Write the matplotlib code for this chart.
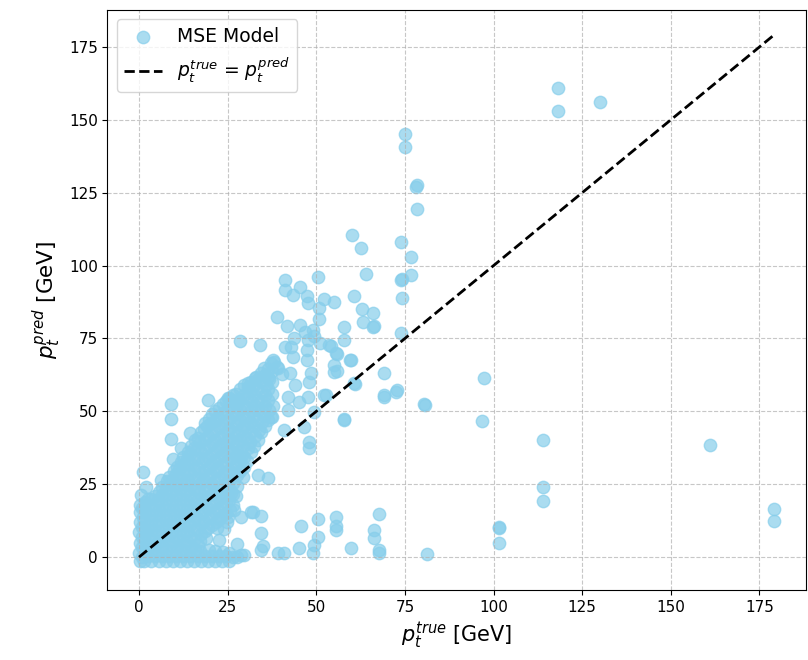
import numpy as np
import matplotlib
matplotlib.use("Agg")
import matplotlib.pyplot as plt

# dense core near the origin
core_pts = [
    (0.2, -1.3), (0.0, 1.5), (0.3, 5.0), (0.1, 8.5), (0.4, 12.0), (0.2, 15.5), (0.3, 18.0),
    (1.5, -1.5), (1.7, 2.0), (1.4, 5.5), (1.6, 9.0), (1.5, 12.5), (1.8, 16.0), (1.6, 19.0),
    (3.5, -1.2), (3.4, 2.3), (3.7, 5.8), (3.5, 9.3), (3.3, 12.8), (3.6, 16.3), (3.5, 19.8),
    (5.5, -1.4), (5.3, 2.0), (5.6, 5.5), (5.4, 9.0), (5.7, 12.5), (5.5, 16.0), (5.3, 19.5), (5.6, 22.5),
    (7.5, -1.2), (7.7, 2.3), (7.4, 5.8), (7.6, 9.3), (7.5, 12.8), (7.3, 16.3), (7.6, 19.8), (7.5, 23.3),
    (7.8, 26.0),
    (9.5, -1.4), (9.3, 2.0), (9.6, 5.5), (9.4, 9.0), (9.7, 12.5), (9.5, 16.0), (9.3, 19.5), (9.6, 23.0),
    (9.4, 26.5), (9.8, 29.5),
    (11.5, -1.2), (11.7, 2.3), (11.4, 5.8), (11.6, 9.3), (11.5, 12.8), (11.3, 16.3), (11.6, 19.8),
    (11.5, 23.3), (11.7, 26.8), (11.4, 30.3), (11.8, 32.5),
    (13.5, -1.4), (13.3, 2.0), (13.6, 5.5), (13.4, 9.0), (13.7, 12.5), (13.5, 16.0), (13.3, 19.5),
    (13.6, 23.0), (13.4, 26.5), (13.7, 30.0), (13.5, 33.5), (13.8, 36.0),
    (15.5, -1.2), (15.7, 2.3), (15.4, 5.8), (15.6, 9.3), (15.5, 12.8), (15.3, 16.3), (15.6, 19.8),
    (15.5, 23.3), (15.7, 26.8), (15.4, 30.3), (15.6, 33.8), (15.5, 37.3), (15.8, 40.0),
    (17.5, -1.4), (17.3, 2.0), (17.6, 8.0), (17.4, 11.5), (17.7, 15.0), (17.5, 18.5), (17.3, 22.0),
    (17.6, 25.5), (17.4, 29.0), (17.7, 32.5), (17.5, 36.0), (17.3, 39.5), (17.6, 43.0),
    (19.5, -1.2), (19.7, 2.3), (19.4, 10.0), (19.6, 13.5), (19.5, 17.0), (19.3, 20.5), (19.6, 24.0),
    (19.5, 27.5), (19.7, 31.0), (19.4, 34.5), (19.6, 38.0), (19.5, 41.5), (19.3, 45.0), (19.7, 47.5),
    (21.5, -1.4), (21.3, 2.0), (21.6, 12.0), (21.4, 15.5), (21.7, 19.0), (21.5, 22.5), (21.3, 26.0),
    (21.6, 29.5), (21.4, 33.0), (21.7, 36.5), (21.5, 40.0), (21.3, 43.5), (21.6, 47.0), (21.4, 50.0),
    (23.5, -1.2), (23.7, 1.8), (23.4, 14.0), (23.6, 17.5), (23.5, 21.0), (23.3, 24.5), (23.6, 28.0),
    (23.5, 31.5), (23.7, 35.0), (23.4, 38.5), (23.6, 42.0), (23.5, 45.5), (23.3, 49.0), (23.7, 52.5),
    (25.5, -1.3), (25.3, 1.5), (25.6, 16.0), (25.4, 19.5), (25.7, 23.0), (25.5, 26.5), (25.3, 30.0),
    (25.6, 33.5), (25.4, 37.0), (25.7, 40.5), (25.5, 44.0), (25.3, 47.5), (25.6, 51.0), (25.4, 54.5),
    (27.5, 0.0), (27.4, 21.0), (27.7, 24.5), (27.5, 28.0), (27.3, 31.5), (27.6, 35.0), (27.4, 38.5),
    (27.7, 42.0), (27.5, 45.5), (27.3, 49.0), (27.6, 52.5), (27.4, 56.0),
    (29.5, 0.7), (29.3, 27.5), (29.5, 31.0), (29.7, 34.5), (29.4, 38.0), (29.6, 41.5), (29.5, 45.0),
    (29.3, 48.5), (29.6, 52.0), (29.5, 55.5), (29.7, 59.0),
    (31.5, 36.0), (31.3, 39.5), (31.6, 43.0), (31.4, 46.5), (31.7, 50.0), (31.5, 53.5), (31.3, 57.0),
    (31.6, 60.0),
    (33.5, 40.0), (33.7, 43.5), (33.4, 47.0), (33.6, 50.5), (33.5, 54.0), (33.3, 57.5), (33.6, 61.0),
    (35.5, 45.0), (35.3, 48.5), (35.6, 52.0), (35.4, 55.5), (35.7, 59.0), (35.5, 62.5), (35.3, 65.0),
    (37.5, 48.0), (37.7, 52.0), (37.4, 56.0), (37.6, 60.0), (37.5, 64.0),
]

# second pass over the core, between the columns above
core_fill_pts = [
    (0.8, 0.2), (0.9, 3.3), (0.7, 6.8), (0.8, 10.3), (1.0, 13.8), (0.8, 17.0),
    (2.5, 0.3), (2.6, 3.8), (2.4, 7.3), (2.5, 10.8), (2.7, 14.3), (2.5, 17.8), (2.6, 20.0),
    (4.5, 0.5), (4.6, 4.0), (4.4, 7.5), (4.5, 11.0), (4.7, 14.5), (4.5, 18.0), (4.4, 21.0),
    (6.5, 0.4), (6.6, 3.9), (6.4, 7.4), (6.5, 10.9), (6.7, 14.4), (6.5, 17.9), (6.4, 21.4), (6.6, 24.2),
    (8.5, 0.5), (8.6, 4.0), (8.4, 7.5), (8.5, 11.0), (8.7, 14.5), (8.5, 18.0), (8.4, 21.5), (8.6, 25.0),
    (8.5, 27.5),
    (10.5, 0.4), (10.6, 3.9), (10.4, 7.4), (10.5, 10.9), (10.7, 14.4), (10.5, 17.9), (10.4, 21.4),
    (10.6, 24.9), (10.5, 28.4), (10.7, 31.0),
    (12.5, 0.5), (12.6, 4.0), (12.4, 7.5), (12.5, 11.0), (12.7, 14.5), (12.5, 18.0), (12.4, 21.5),
    (12.6, 25.0), (12.5, 28.5), (12.7, 32.0), (12.5, 34.5),
    (14.5, 0.4), (14.6, 3.9), (14.4, 7.4), (14.5, 10.9), (14.7, 14.4), (14.5, 17.9), (14.4, 21.4),
    (14.6, 24.9), (14.5, 28.4), (14.7, 31.9), (14.5, 35.4), (14.6, 38.0),
    (16.5, 0.5), (16.6, 4.0), (16.4, 9.5), (16.5, 13.0), (16.7, 16.5), (16.5, 20.0), (16.4, 23.5),
    (16.6, 27.0), (16.5, 30.5), (16.7, 34.0), (16.5, 37.5), (16.6, 41.0),
    (18.5, 0.4), (18.6, 9.0), (18.4, 12.5), (18.5, 16.0), (18.7, 19.5), (18.5, 23.0), (18.4, 26.5),
    (18.6, 30.0), (18.5, 33.5), (18.7, 37.0), (18.5, 40.5), (18.4, 44.0), (18.6, 46.0),
    (20.5, 0.5), (20.6, 11.0), (20.4, 14.5), (20.5, 18.0), (20.7, 21.5), (20.5, 25.0), (20.4, 28.5),
    (20.6, 32.0), (20.5, 35.5), (20.7, 39.0), (20.5, 42.5), (20.4, 46.0), (20.6, 49.0),
    (22.5, 0.4), (22.6, 13.0), (22.4, 16.5), (22.5, 20.0), (22.7, 23.5), (22.5, 27.0), (22.4, 30.5),
    (22.6, 34.0), (22.5, 37.5), (22.7, 41.0), (22.5, 44.5), (22.4, 48.0), (22.6, 51.0),
    (24.5, 0.3), (24.6, 15.0), (24.4, 18.5), (24.5, 22.0), (24.7, 25.5), (24.5, 29.0), (24.4, 32.5),
    (24.6, 36.0), (24.5, 39.5), (24.7, 43.0), (24.5, 46.5), (24.4, 50.0), (24.6, 53.5),
    (26.5, 0.2), (26.6, 18.0), (26.4, 21.5), (26.5, 25.5), (26.7, 29.0), (26.5, 32.5), (26.4, 36.0),
    (26.6, 39.5), (26.5, 43.0), (26.7, 46.5), (26.5, 50.0), (26.4, 53.5), (26.6, 55.5),
    (28.5, 29.5), (28.6, 33.0), (28.4, 36.5), (28.5, 40.0), (28.7, 43.5), (28.5, 47.0), (28.4, 50.5),
    (28.6, 54.0), (28.5, 57.5),
    (30.5, 33.0), (30.6, 37.5), (30.4, 41.0), (30.5, 44.5), (30.7, 48.0), (30.5, 51.5), (30.4, 55.0),
    (30.6, 58.5),
    (32.5, 38.0), (32.6, 41.5), (32.4, 45.0), (32.5, 48.5), (32.7, 52.0), (32.5, 55.5), (32.4, 59.0),
    (32.6, 61.5),
    (34.5, 43.0), (34.6, 46.5), (34.4, 50.0), (34.5, 53.5), (34.7, 57.0), (34.5, 60.5), (34.4, 63.0),
    (36.5, 47.0), (36.6, 50.5), (36.4, 54.0), (36.5, 57.5), (36.7, 61.0), (36.5, 64.5),
    (17.2, 5.5), (18.8, 6.5), (22.0, 10.0), (24.8, 12.0),
]

# over-predicted scatter above the band
upper_pts = [
    (60.0, 110.5), (62.5, 106.0), (74.0, 108.1), (63.9, 97.1), (76.6, 103.0), (74.3, 95.4),
    (76.6, 96.8), (74.3, 88.9), (74.0, 76.9), (73.8, 95.1),
    (50.4, 96.1), (41.1, 95.0), (41.1, 91.6), (45.3, 92.7), (43.4, 89.9), (47.3, 89.6),
    (47.6, 87.2), (52.1, 88.5), (54.9, 87.5), (60.5, 89.6),
    (50.7, 85.4), (62.8, 85.1), (65.9, 83.7), (63.3, 80.6), (65.9, 78.9), (66.2, 79.2),
    (57.7, 78.9), (57.7, 74.5), (54.1, 72.4), (55.7, 69.7), (59.7, 67.6), (54.9, 65.9),
    (55.7, 63.8), (69.0, 63.1), (60.8, 59.4), (72.9, 57.3), (72.6, 56.6), (69.0, 54.9),
    (80.5, 52.5), (80.8, 52.2), (57.7, 47.4), (97.4, 61.4), (96.8, 46.7),
    (50.7, 81.7), (38.9, 82.4), (41.7, 79.3), (45.3, 79.6), (49.0, 77.9), (46.7, 77.2),
    (28.4, 74.1), (34.1, 72.8), (41.1, 72.1), (43.6, 75.2), (47.6, 74.5), (49.3, 75.8),
    (51.0, 73.4), (53.5, 72.8), (55.5, 70.0), (47.3, 71.0), (42.8, 72.1), (43.4, 68.6),
    (47.3, 67.6), (37.7, 67.6), (38.9, 65.2), (40.3, 62.8), (42.5, 63.1), (48.4, 63.1),
    (47.9, 60.1), (43.9, 59.0), (54.9, 63.5), (59.4, 67.6), (60.5, 59.7), (52.6, 55.6),
    (47.6, 54.9), (45.0, 53.2), (42.0, 54.9), (38.0, 66.9), (37.2, 66.6), (39.1, 64.9),
    (30.7, 59.7), (32.9, 61.8), (36.3, 61.8), (25.1, 54.6), (27.9, 53.9), (19.4, 53.9),
    (9.0, 52.5), (9.0, 47.3), (9.0, 40.5), (14.4, 42.6), (11.8, 37.4), (9.6, 33.6),
    (6.2, 26.4), (1.1, 29.2), (2.0, 24.0), (0.6, 21.3),
    (40.8, 43.6), (46.5, 44.6), (47.9, 39.5), (47.9, 37.4), (57.7, 47.0), (69.0, 55.6),
    (52.1, 55.6), (49.3, 49.8), (42.0, 50.4), (37.2, 48.0),
    (33.5, 28.1), (36.3, 27.1), (28.7, 34.3),
    (74.9, 145.2), (74.9, 140.7), (78.3, 127.5), (78.0, 127.0), (78.3, 119.4),
    (118.2, 161.0), (118.2, 153.1), (130.0, 156.2),
]

# under-predicted scatter below the diagonal
lower_pts = [
    (28.7, 0.7), (34.3, 2.4), (34.9, 3.8), (39.1, 1.4), (40.8, 1.4), (45.0, 3.1),
    (49.0, 1.4), (49.3, 4.1), (50.4, 6.9), (50.4, 13.0), (45.6, 10.6), (55.5, 13.7),
    (55.5, 9.3), (55.5, 10.6), (59.7, 3.1), (66.2, 9.3), (66.2, 6.5), (67.6, 14.8),
    (67.6, 2.4), (67.6, 1.4), (81.1, 1.0), (34.3, 8.2), (32.1, 15.4), (34.3, 14.1),
    (28.7, 13.7), (25.0, 13.7), (26.7, 16.1), (25.9, 22.0), (31.5, 15.4), (22.5, 6.0),
    (27.5, 4.5), (24.0, 9.5),
    (101.4, 10.0), (101.4, 10.3), (101.4, 4.8), (113.9, 24.0), (113.9, 19.4), (113.9, 40.2),
    (161.0, 38.4), (179.1, 16.5), (179.1, 12.4),
]

pts = np.array(core_pts + core_fill_pts + upper_pts + lower_pts)
p_true = pts[:, 0]
p_pred = pts[:, 1]

fig = plt.figure(figsize=(8.08, 6.6), dpi=100)
ax = fig.add_axes([0.133, 0.106, 0.864, 0.879])

ax.scatter(p_true, p_pred, s=80, color="skyblue", alpha=0.7, label="MSE Model")
lo, hi = p_true.min(), p_true.max()
ax.plot([lo, hi], [lo, hi], "k--", lw=2, label=r"$p_t^{true}$ = $p_t^{pred}$")

ax.set_xlim(-8.9, 188)
ax.set_ylim(-11.3, 187.7)
ax.set_xticks([0, 25, 50, 75, 100, 125, 150, 175])
ax.set_yticks([0, 25, 50, 75, 100, 125, 150, 175])
ax.tick_params(labelsize=11)
ax.set_xlabel(r"$p_t^{true}$ [GeV]", fontsize=15)
ax.set_ylabel(r"$p_t^{pred}$ [GeV]", fontsize=15.5)
ax.grid(True, linestyle="--", alpha=0.7)
ax.legend(loc="upper left", fontsize=13.5)

fig.savefig("out.png", dpi=100)
